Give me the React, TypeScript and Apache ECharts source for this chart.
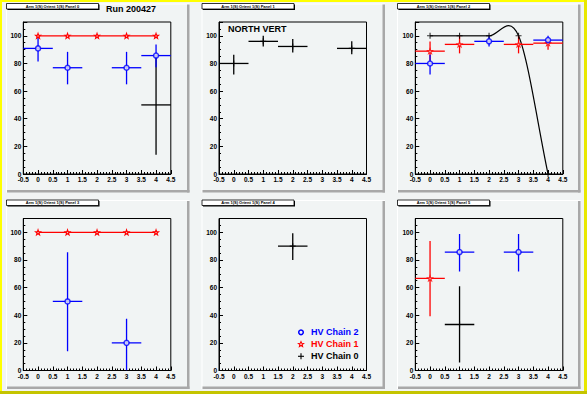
import React, { useEffect, useRef } from "react";
import * as echarts from "echarts";

// ---------- data ----------
// point: [x, y, exLow, exHigh, eyLow, eyHigh]
const panelTitles = [
  "Arm 1(S) Orient 1(S) Panel 0",
  "Arm 1(S) Orient 1(S) Panel 1",
  "Arm 1(S) Orient 1(S) Panel 2",
  "Arm 1(S) Orient 1(S) Panel 3",
  "Arm 1(S) Orient 1(S) Panel 4",
  "Arm 1(S) Orient 1(S) Panel 5",
];
const seriesNames = ["HV Chain 2", "HV Chain 1", "HV Chain 0"];

const p0Blue = [
  [0, 90.9, 0.5, 0.5, 9.5, 9.1],
  [1, 76.9, 0.5, 0.5, 12.0, 11.5],
  [3, 76.9, 0.5, 0.5, 12.0, 11.5],
  [4, 85.7, 0.5, 0.5, 8.5, 8.0],
];
const p0Red = [[0, 100], [1, 100], [2, 100], [3, 100], [4, 100]];
const p0Black = [[4, 50, 0.5, 0.5, 36, 36]];

const p1Black = [
  [0, 80.0, 0.5, 0.5, 8.0, 6.3],
  [1, 96.0, 0.5, 0.5, 3.8, 4.0],
  [2, 92.3, 0.5, 0.5, 4.4, 5.4],
  [4, 90.9, 0.5, 0.5, 4.2, 5.2],
];

const p2Blue = [
  [0, 80.0, 0.5, 0.5, 8.0, 6.3],
  [2, 96.0, 0.5, 0.5, 3.8, 4.0],
  [4, 96.9, 0.5, 0.5, 2.9, 3.1],
];
const p2Red = [
  [0, 88.9, 0.5, 0.5, 6.8, 7.0],
  [1, 93.8, 0.5, 0.5, 6.5, 6.2],
  [3, 93.8, 0.5, 0.5, 6.5, 6.2],
  [4, 94.7, 0.5, 0.5, 4.7, 3.0],
];
const p2Black = [[0, 100], [1, 100], [2, 100], [3, 100], [4, 0]];

const p3Red = [[0, 100], [1, 100], [2, 100], [3, 100], [4, 100]];
const p3Blue = [
  [1, 50, 0.5, 0.5, 36, 35.5],
  [3, 20, 0.5, 0.5, 20, 17.5],
];

const p4Black = [[2, 90, 0.5, 0.5, 10, 9.3]];

const p5Red = [[0, 66.7, 0.5, 0.5, 27.5, 27.0]];
const p5Blue = [
  [1, 85.7, 0.5, 0.5, 14, 13],
  [3, 85.7, 0.5, 0.5, 14, 13],
];
const p5Black = [[1, 33.3, 0.5, 0.5, 27.5, 27.7]];

// ---------- style / layout ----------
const BG = "#f1f4f4";
const BLUE = "#0000ff";
const RED = "#ff0000";
const BLACK = "#000000";
const FONT = '"Liberation Sans", Arial, sans-serif';

const padX = [6, 201.5, 397];
const padY = [3.5, 200];
const padW = 183.5;
const padH = 189;
const gridLeft = [23.3, 219, 415.3];
const gridTop = [22, 218.5];
const gridW = 147.5;
const gridH = 152;

const STAR =
  "path://M5,0 L6.2,3.4 L9.8,3.5 L6.9,5.7 L7.9,9.1 L5,7.1 L2.1,9.1 L3.1,5.7 L0.2,3.5 L3.8,3.4 Z";
const PLUS = "path://M0,5 L10,5 M5,0 L5,10";

function errRender(color: string) {
  return (params: any, api: any) => {
    const x = api.value(0);
    const y = api.value(1);
    const a = api.coord([x - api.value(2), y]);
    const b = api.coord([x + api.value(3), y]);
    const c = api.coord([x, y - api.value(4)]);
    const d = api.coord([x, y + api.value(5)]);
    const style = { stroke: color, lineWidth: 1.3 };
    return {
      type: "group",
      children: [
        { type: "line", shape: { x1: a[0], y1: a[1], x2: b[0], y2: b[1] }, style },
        { type: "line", shape: { x1: c[0], y1: c[1], x2: d[0], y2: d[1] }, style },
      ],
    };
  };
}

function errSeries(k: number, data: number[][], color: string, name: string) {
  return {
    type: "custom",
    name,
    xAxisIndex: k,
    yAxisIndex: 2 * k,
    data,
    encode: { x: 0, y: 1 },
    clip: true,
    renderItem: errRender(color),
  };
}

function markerSeries(k: number, data: number[][], kind: "blue" | "red" | "black", name: string) {
  const base: any = {
    type: "scatter",
    name,
    xAxisIndex: k,
    yAxisIndex: 2 * k,
    data: data.map((p) => [p[0], p[1]]),
    clip: false,
  };
  if (kind === "blue") {
    base.symbol = "circle";
    base.symbolSize = 5;
    base.itemStyle = { color: BG, borderColor: BLUE, borderWidth: 1.5 };
  } else if (kind === "red") {
    base.symbol = STAR;
    base.symbolSize = 5;
    base.itemStyle = { color: BG, borderColor: RED, borderWidth: 1.1 };
  } else {
    base.symbol = PLUS;
    base.symbolSize = 6;
    base.itemStyle = { color: BLACK, borderColor: BLACK, borderWidth: 1.1 };
  }
  return base;
}

function redLine(k: number, data: number[][]) {
  return {
    type: "line",
    name: seriesNames[1],
    xAxisIndex: k,
    yAxisIndex: 2 * k,
    data: data.map((p) => [p[0], p[1]]),
    lineStyle: { color: RED, width: 1.3 },
    symbol: STAR,
    symbolSize: 5,
    showSymbol: true,
    itemStyle: { color: BG, borderColor: RED, borderWidth: 1.1 },
  };
}

// Catmull-Rom style smooth curve through the points (drawn through the axis scales)
function curveSeries(k: number, data: number[][]) {
  return {
    type: "custom",
    name: seriesNames[2],
    xAxisIndex: k,
    yAxisIndex: 2 * k,
    data: data.map((p) => [p[0], p[1]]),
    encode: { x: 0, y: 1 },
    clip: true,
    renderItem: (params: any, api: any) => {
      if (params.dataIndex !== 0) return { type: "group", children: [] };
      const n = data.length;
      const slope = (i: number) => {
        const i0 = Math.max(0, i - 1);
        const i1 = Math.min(n - 1, i + 1);
        return (data[i1][1] - data[i0][1]) / (data[i1][0] - data[i0][0]);
      };
      const children: any[] = [];
      for (let i = 0; i < n - 1; i++) {
        const [x0, y0] = data[i];
        const [x1, y1] = data[i + 1];
        const dx = (x1 - x0) / 3;
        const p0 = api.coord([x0, y0]);
        const p1 = api.coord([x1, y1]);
        const c0 = api.coord([x0 + dx, y0 + slope(i) * dx]);
        const c1 = api.coord([x1 - dx, y1 - slope(i + 1) * dx]);
        children.push({
          type: "bezierCurve",
          shape: {
            x1: p0[0], y1: p0[1], x2: p1[0], y2: p1[1],
            cpx1: c0[0], cpy1: c0[1], cpx2: c1[0], cpy2: c1[1],
          },
          style: { stroke: BLACK, lineWidth: 1.2, fill: null },
        });
      }
      return { type: "group", children };
    },
  };
}

function buildOption() {
  const grids: any[] = [];
  const xAxes: any[] = [];
  const yAxes: any[] = [];
  for (let k = 0; k < 6; k++) {
    const col = k % 3;
    const row = Math.floor(k / 3);
    grids.push({
      left: gridLeft[col],
      top: gridTop[row],
      width: gridW,
      height: gridH,
      show: true,
      borderColor: BLACK,
      borderWidth: 1,
      backgroundColor: "transparent",
      containLabel: false,
    });
    xAxes.push({
      gridIndex: k,
      type: "value",
      position: "bottom",
      min: -0.5,
      max: 4.5,
      interval: 0.5,
      axisLine: { show: true, onZero: false, lineStyle: { color: BLACK, width: 1 } },
      axisTick: { show: true, inside: true, length: 4, lineStyle: { color: BLACK, width: 1 } },
      minorTick: { show: true, splitNumber: 5, length: 2, lineStyle: { color: BLACK, width: 1 } },
      splitLine: { show: false },
      axisLabel: {
        margin: 2,
        fontSize: 6.5,
        fontWeight: "bold",
        fontFamily: FONT,
        color: BLACK,
      },
    });
    yAxes.push({
      gridIndex: k,
      type: "value",
      position: "left",
      min: 0,
      max: 110,
      interval: 20,
      axisLine: { show: true, onZero: false, lineStyle: { color: BLACK, width: 1 } },
      axisTick: { show: true, inside: true, length: 4, lineStyle: { color: BLACK, width: 1 } },
      splitLine: { show: false },
      axisLabel: {
        margin: 2,
        fontSize: 6.5,
        fontWeight: "bold",
        fontFamily: FONT,
        color: BLACK,
        formatter: (v: number) => (v % 20 === 0 && v <= 100 ? String(v) : ""),
      },
    });
    yAxes.push({
      gridIndex: k,
      type: "value",
      position: "left",
      offset: 0,
      min: 0,
      max: 110,
      interval: 5,
      axisLine: { show: false, onZero: false },
      axisTick: { show: true, inside: true, length: 2, lineStyle: { color: BLACK, width: 1 } },
      splitLine: { show: false },
      axisLabel: { show: false },
    });
  }

  const series: any[] = [
    // pad 0
    errSeries(0, p0Black, BLACK, seriesNames[2]),
    redLine(0, p0Red),
    errSeries(0, p0Blue, BLUE, seriesNames[0]),
    markerSeries(0, p0Blue, "blue", seriesNames[0]),
    // pad 1
    errSeries(1, p1Black, BLACK, seriesNames[2]),
    markerSeries(1, p1Black, "black", seriesNames[2]),
    // pad 2
    curveSeries(2, p2Black),
    markerSeries(2, p2Black, "black", seriesNames[2]),
    errSeries(2, p2Red, RED, seriesNames[1]),
    markerSeries(2, p2Red, "red", seriesNames[1]),
    errSeries(2, p2Blue, BLUE, seriesNames[0]),
    markerSeries(2, p2Blue, "blue", seriesNames[0]),
    // pad 3
    redLine(3, p3Red),
    errSeries(3, p3Blue, BLUE, seriesNames[0]),
    markerSeries(3, p3Blue, "blue", seriesNames[0]),
    // pad 4
    errSeries(4, p4Black, BLACK, seriesNames[2]),
    markerSeries(4, p4Black, "black", seriesNames[2]),
    // pad 5
    errSeries(5, p5Black, BLACK, seriesNames[2]),
    markerSeries(5, p5Black, "black", seriesNames[2]),
    errSeries(5, p5Red, RED, seriesNames[1]),
    markerSeries(5, p5Red, "red", seriesNames[1]),
    errSeries(5, p5Blue, BLUE, seriesNames[0]),
    markerSeries(5, p5Blue, "blue", seriesNames[0]),
  ];

  const g: any[] = [];
  g.push({ type: "rect", z: -30, silent: true, shape: { x: 0, y: 0, width: 587, height: 394 }, style: { fill: BG } });
  // canvas bevel border
  g.push({ type: "rect", z: -29, silent: true, shape: { x: 0, y: 0, width: 587, height: 2 }, style: { fill: "#ffff00" } });
  g.push({ type: "rect", z: -29, silent: true, shape: { x: 0, y: 0, width: 2, height: 394 }, style: { fill: "#ffff00" } });
  g.push({ type: "rect", z: -29, silent: true, shape: { x: 584, y: 0, width: 3, height: 394 }, style: { fill: "#e8e800" } });
  g.push({ type: "rect", z: -29, silent: true, shape: { x: 0, y: 391, width: 587, height: 3 }, style: { fill: "#c4c400" } });

  for (let k = 0; k < 6; k++) {
    const col = k % 3;
    const row = Math.floor(k / 3);
    const px = padX[col];
    const py = padY[row];
    // pad bevel
    g.push({ type: "rect", z: -28, silent: true, shape: { x: px, y: py, width: padW, height: 1 }, style: { fill: "#ffffff" } });
    g.push({ type: "rect", z: -28, silent: true, shape: { x: px, y: py, width: 1, height: padH }, style: { fill: "#ffffff" } });
    g.push({ type: "rect", z: -28, silent: true, shape: { x: px + padW - 2.5, y: py + 1, width: 2.5, height: padH - 1 }, style: { fill: "#a8a8a8" } });
    g.push({ type: "rect", z: -28, silent: true, shape: { x: px + 1, y: py + padH - 2.5, width: padW - 1, height: 2.5 }, style: { fill: "#a8a8a8" } });
    // title box
    const bx = px + 0.5;
    const by = py;
    g.push({ type: "rect", z: 50, silent: true, shape: { x: bx + 1, y: by + 1, width: 92, height: 5.5 }, style: { fill: BLACK } });
    g.push({ type: "rect", z: 51, silent: true, shape: { x: bx, y: by, width: 92, height: 5.5 }, style: { fill: "#ffffff", stroke: BLACK, lineWidth: 0.8 } });
    g.push({
      type: "text", z: 52, silent: true,
      style: {
        text: panelTitles[k], x: bx + 46, y: by + 2.9, align: "center", verticalAlign: "middle",
        font: `bold 4px ${FONT}`, fill: BLACK,
      },
    });
  }

  g.push({
    type: "text", z: 52, silent: true,
    style: { text: "Run 200427", x: 106, y: 9, align: "left", verticalAlign: "middle", font: `bold 9px ${FONT}`, fill: BLACK },
  });
  g.push({
    type: "text", z: 52, silent: true,
    style: { text: "NORTH VERT", x: 228, y: 28.5, align: "left", verticalAlign: "middle", font: `bold 9px ${FONT}`, fill: BLACK },
  });

  // legend (pad 4)
  const lx = 301;
  const ly = [332.3, 344.3, 356.3];
  const colors = [BLUE, RED, BLACK];
  g.push({ type: "circle", z: 52, silent: true, shape: { cx: lx, cy: ly[0], r: 2.3 }, style: { fill: BG, stroke: BLUE, lineWidth: 1.5 } });
  const starPts: number[][] = [];
  for (let i = 0; i < 10; i++) {
    const r = i % 2 === 0 ? 2.7 : 1.2;
    const a = -Math.PI / 2 + (i * Math.PI) / 5;
    starPts.push([lx + r * Math.cos(a), ly[1] + r * Math.sin(a)]);
  }
  g.push({ type: "polygon", z: 52, silent: true, shape: { points: starPts }, style: { fill: BG, stroke: RED, lineWidth: 1.1 } });
  g.push({ type: "line", z: 52, silent: true, shape: { x1: lx - 3, y1: ly[2], x2: lx + 3, y2: ly[2] }, style: { stroke: BLACK, lineWidth: 1.1 } });
  g.push({ type: "line", z: 52, silent: true, shape: { x1: lx, y1: ly[2] - 3, x2: lx, y2: ly[2] + 3 }, style: { stroke: BLACK, lineWidth: 1.1 } });
  for (let i = 0; i < 3; i++) {
    g.push({
      type: "text", z: 52, silent: true,
      style: { text: seriesNames[i], x: 311, y: ly[i], align: "left", verticalAlign: "middle", font: `bold 9px ${FONT}`, fill: colors[i] },
    });
  }

  return {
    animation: false,
    backgroundColor: BG,
    grid: grids,
    xAxis: xAxes,
    yAxis: yAxes,
    series,
    graphic: { elements: g },
  };
}

export default function App() {
  const ref = useRef<HTMLDivElement>(null);
  useEffect(() => {
    document.body.style.margin = "0";
    const chart = echarts.init(ref.current!, null, { renderer: "svg" });
    chart.setOption(buildOption() as any);
    return () => chart.dispose();
  }, []);
  return <div ref={ref} style={{ width: 587, height: 394 }} />;
}
